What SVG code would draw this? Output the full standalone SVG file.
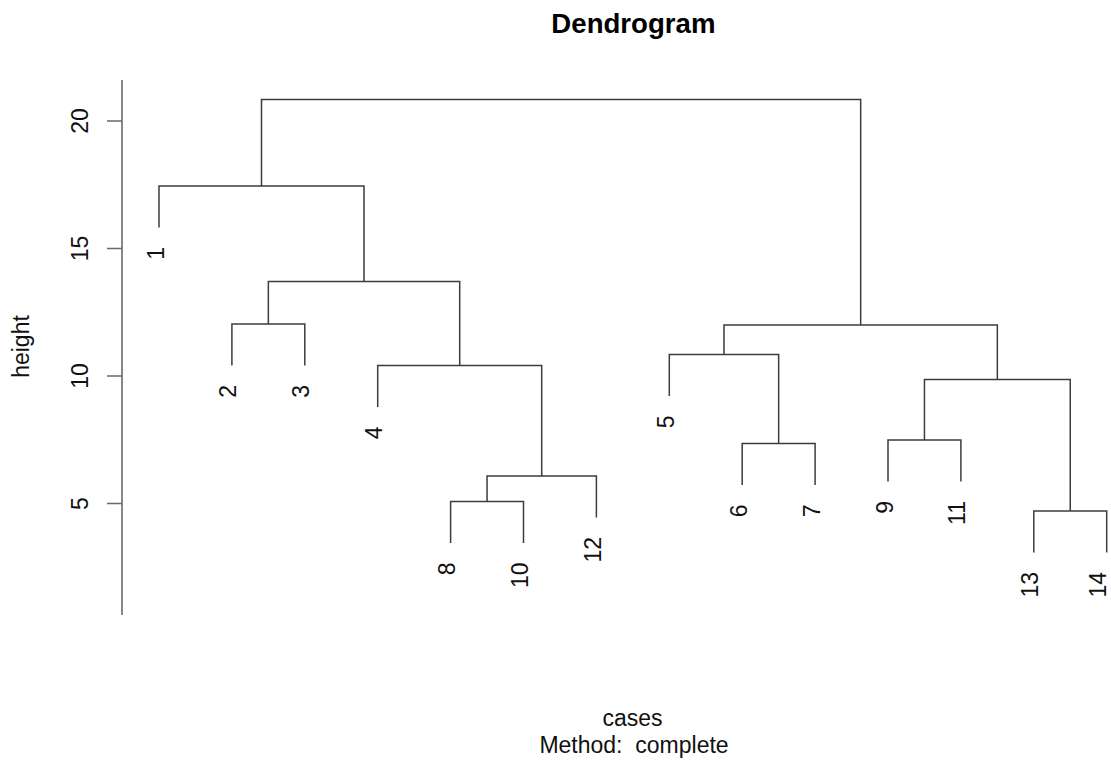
<svg xmlns="http://www.w3.org/2000/svg" width="1111" height="760" viewBox="0 0 1111 760">
<style>
text{font-family:"Liberation Sans",Arial,Helvetica,sans-serif;font-size:23px;fill:#111}
.title{font-size:27.6px;font-weight:bold;fill:#000}
.lbl{text-anchor:end}
.tick{text-anchor:middle}
.ln{fill:none;stroke:#3c3c3c;stroke-width:1.5}
.ax{fill:none;stroke:#6a6a6a;stroke-width:1.6}
</style>
<rect width="1111" height="760" fill="#fff"/>
<g id="title"><text class="title" x="633.4" y="33" text-anchor="middle">Dendrogram</text></g>
<g id="axis">
<path class="ax" d="M122 80V615M107 121H122M107 248.5H122M107 376H122M107 503.5H122"/>
<text class="tick" transform="translate(88,121) rotate(-90)">20</text>
<text class="tick" transform="translate(88,248.5) rotate(-90)">15</text>
<text class="tick" transform="translate(88,376) rotate(-90)">10</text>
<text class="tick" transform="translate(88,503.5) rotate(-90)">5</text>
<text class="tick" transform="translate(28.5,346.5) rotate(-90)">height</text>
<text x="632.5" y="726" text-anchor="middle">cases</text>
<text x="634" y="753" text-anchor="middle" xml:space="preserve" style="white-space:pre">Method:  complete</text>
</g>
<g id="connectors">
<path class="ln" d="M261.5 186V99.5H860.67V325"/>
<path class="ln" d="M159 227.5V186H364V281.5"/>
<path class="ln" d="M268.35 324V281.5H459.7V365.5"/>
<path class="ln" d="M231.9 365.5V324H304.8V365.5"/>
<path class="ln" d="M377.7 407V365.5H541.7V476"/>
<path class="ln" d="M487.05 501.5V476H596.4V517.5"/>
<path class="ln" d="M450.6 543V501.5H523.5V543"/>
<path class="ln" d="M723.98 354.5V325H997.35V379.5"/>
<path class="ln" d="M669.3 396V354.5H778.65V443.5"/>
<path class="ln" d="M742.2 485V443.5H815.1V485"/>
<path class="ln" d="M924.45 440V379.5H1070.25V511"/>
<path class="ln" d="M888 481.5V440H960.9V481.5"/>
<path class="ln" d="M1033.8 552.5V511H1106.7V552.5"/>
</g>
<g id="leaf-1"><text class="lbl" transform="translate(163.5,247) rotate(-90)">1</text></g>
<g id="leaf-2"><text class="lbl" transform="translate(236.4,385) rotate(-90)">2</text></g>
<g id="leaf-3"><text class="lbl" transform="translate(309.3,385) rotate(-90)">3</text></g>
<g id="leaf-4"><text class="lbl" transform="translate(382.2,426.5) rotate(-90)">4</text></g>
<g id="leaf-8"><text class="lbl" transform="translate(455.1,562.5) rotate(-90)">8</text></g>
<g id="leaf-10"><text class="lbl" transform="translate(528,562.5) rotate(-90)">10</text></g>
<g id="leaf-12"><text class="lbl" transform="translate(600.9,537) rotate(-90)">12</text></g>
<g id="leaf-5"><text class="lbl" transform="translate(673.8,415.5) rotate(-90)">5</text></g>
<g id="leaf-6"><text class="lbl" transform="translate(746.7,504.5) rotate(-90)">6</text></g>
<g id="leaf-7"><text class="lbl" transform="translate(819.6,504.5) rotate(-90)">7</text></g>
<g id="leaf-9"><text class="lbl" transform="translate(892.5,501) rotate(-90)">9</text></g>
<g id="leaf-11"><text class="lbl" transform="translate(965.4,501) rotate(-90)">11</text></g>
<g id="leaf-13"><text class="lbl" transform="translate(1038.3,572) rotate(-90)">13</text></g>
<g id="leaf-14"><text class="lbl" transform="translate(1105.5,572) rotate(-90)">14</text></g>
</svg>
